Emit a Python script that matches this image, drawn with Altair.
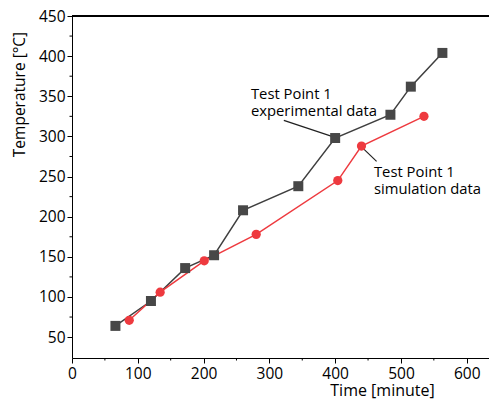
import altair as alt
import pandas as pd

# Data
exp_time = [66, 120, 172, 216, 260, 344, 400, 484, 515, 563]
exp_temp = [64, 95, 136, 152, 208, 238, 298, 327, 362, 404]
sim_time = [87, 134, 201, 280, 404, 440, 535]
sim_temp = [71, 106, 145, 178, 245, 288, 325]

x_ticks = [0, 100, 200, 300, 400, 500, 600]
x_minor = [50, 150, 250, 350, 450, 550]
y_ticks = [50, 100, 150, 200, 250, 300, 350, 400, 450]
y_minor = [75, 125, 175, 225, 275, 325, 375, 425]

ann_text = [["Test Point 1", "experimental data"], ["Test Point 1", "simulation data"]]
ann_x = [272, 459]
ann_y = [347, 250]
lead_x1 = [322, 440]
lead_y1 = [320, 287]
lead_x2 = [395, 463]
lead_y2 = [300, 269]

FONT = "Open Sans"
W, H = 425, 342
XD = [0, 646]
YD = [24, 450]

exp_df = pd.DataFrame({"t": exp_time, "T": exp_temp})
sim_df = pd.DataFrame({"t": sim_time, "T": sim_temp})
ann_df = pd.DataFrame({"label": ann_text, "t": ann_x, "T": ann_y})
lead_df = pd.DataFrame({"t": lead_x1, "T": lead_y1, "t2": lead_x2, "T2": lead_y2})
xm_df = pd.DataFrame({"t": x_minor})
ym_df = pd.DataFrame({"T": y_minor})

xs = alt.Scale(domain=XD, nice=False, zero=False)
ys = alt.Scale(domain=YD, nice=False, zero=False)

x_axis = alt.Axis(values=x_ticks, title="Time [minute]", grid=False,
                  labelFont=FONT, labelFontSize=15.5, labelColor="black",
                  titleFont=FONT, titleFontSize=16, titleFontWeight="normal", titleColor="black",
                  titleX=310, titleY=37, titleAlign="center", titleBaseline="alphabetic",
                  domainColor="black", tickColor="black", tickSize=5, labelPadding=3,
                  labelFlush=False)
y_axis = alt.Axis(values=y_ticks, title="Temperature [°C]", grid=False,
                  labelFont=FONT, labelFontSize=15.5, labelColor="black",
                  titleFont=FONT, titleFontSize=15.5, titleFontWeight="normal", titleColor="black",
                  titleX=-48, titleY=78, titleAngle=270, titleAlign="center", titleBaseline="alphabetic",
                  domainColor="black", tickColor="black", tickSize=5, labelPadding=2,
                  labelFlush=False)

GRAY = "#3f3f3f"
RED = "#ee3a3f"

exp_line = alt.Chart(exp_df).mark_line(color=GRAY, strokeWidth=1.5).encode(
    x=alt.X("t:Q", scale=xs, axis=x_axis),
    y=alt.Y("T:Q", scale=ys, axis=y_axis),
)
exp_pts = alt.Chart(exp_df).mark_point(shape="square", filled=True, color="#474747", size=100, opacity=1).encode(
    x=alt.X("t:Q", scale=xs), y=alt.Y("T:Q", scale=ys)
)
sim_line = alt.Chart(sim_df).mark_line(color=RED, strokeWidth=1.5).encode(
    x=alt.X("t:Q", scale=xs), y=alt.Y("T:Q", scale=ys)
)
sim_pts = alt.Chart(sim_df).mark_circle(color=RED, size=85, opacity=1).encode(
    x=alt.X("t:Q", scale=xs), y=alt.Y("T:Q", scale=ys)
)
leads = alt.Chart(lead_df).mark_rule(color="#222222", strokeWidth=1.2).encode(
    x=alt.X("t:Q", scale=xs), y=alt.Y("T:Q", scale=ys), x2="t2:Q", y2="T2:Q"
)
labels = alt.Chart(ann_df).mark_text(font=FONT, fontSize=14.8, align="left", baseline="alphabetic",
                                     lineHeight=17.5, color="black").encode(
    x=alt.X("t:Q", scale=xs), y=alt.Y("T:Q", scale=ys), text="label"
)
x_minor_ticks = alt.Chart(xm_df).mark_rule(color="black", strokeWidth=1).encode(
    x=alt.X("t:Q", scale=xs), y=alt.value(H), y2=alt.value(H + 2.5)
)
y_minor_ticks = alt.Chart(ym_df).mark_rule(color="black", strokeWidth=1).encode(
    y=alt.Y("T:Q", scale=ys), x=alt.value(-2.5), x2=alt.value(0)
)
top_border = alt.Chart(exp_df).mark_rule(color="black", strokeWidth=1.2).encode(
    x=alt.value(0), x2=alt.value(W), y=alt.value(0)
)

chart = alt.layer(
    top_border, x_minor_ticks, y_minor_ticks, leads,
    exp_line, sim_line, exp_pts, sim_pts, labels
).properties(
    width=W, height=H,
    autosize=alt.AutoSizeParams(type="none"),
    padding={"left": 64, "top": 8, "right": -8, "bottom": 42},
).configure_view(strokeWidth=0).configure(background="white")

chart.save("out.html", embed_options={"renderer": "svg", "actions": False})
